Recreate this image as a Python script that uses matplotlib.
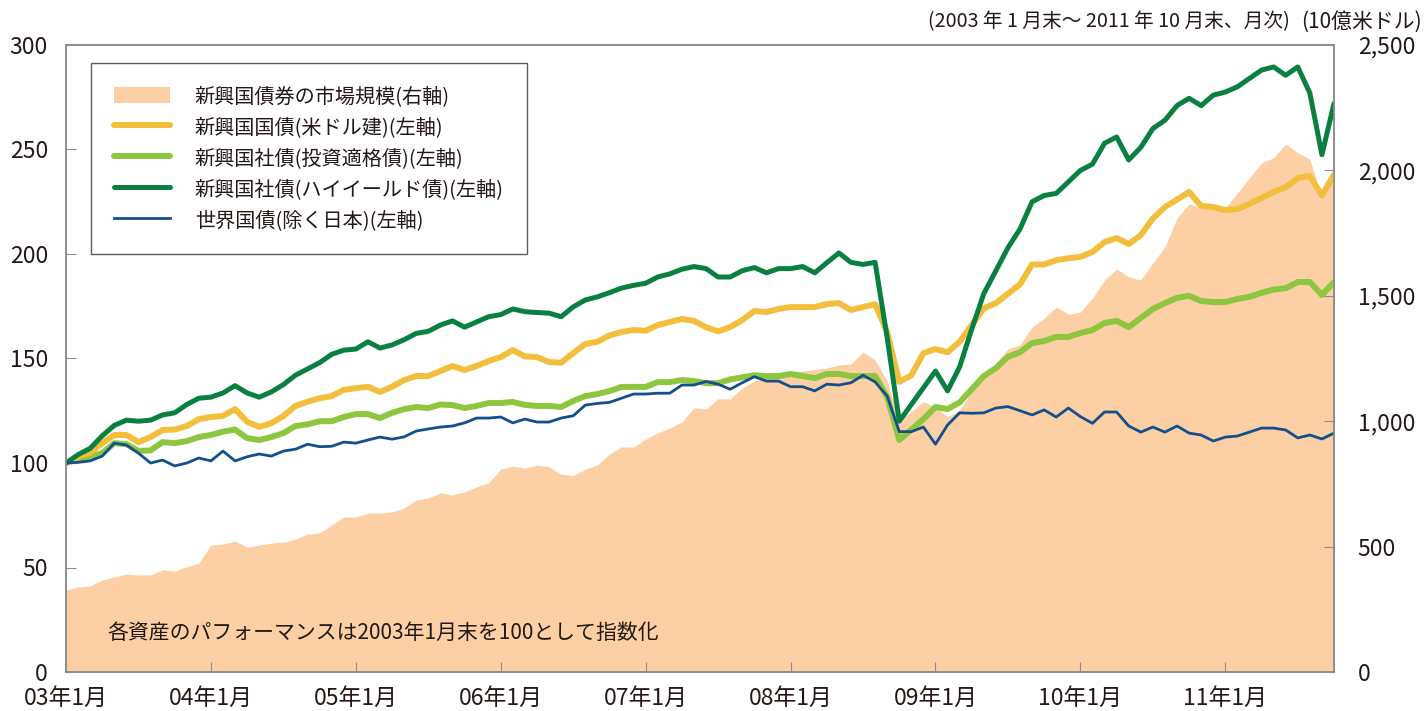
import numpy as np
import matplotlib
matplotlib.use("Agg")
import matplotlib.pyplot as plt
from matplotlib.patches import Patch
from matplotlib.ticker import FuncFormatter

plt.rcParams['font.family'] = ['Noto Sans CJK JP', 'DejaVu Sans']

# monthly, 2003/01 .. 2011/10 (left axis index, right axis 10億米ドル)
sov_usd = [100, 103, 105, 109.5, 113.4, 113.4, 110, 112.4, 115.8, 116, 117.7, 121, 122, 122.5, 125.8, 119.7,
           117.3, 119, 122.5, 127.3, 129.3, 131, 132, 135, 135.8, 136.5, 134, 136.5, 139.7, 141.6, 141.6, 144,
           146.4, 144.5, 146.4, 148.8, 150.7, 154, 151, 150.7, 148.3, 148, 152.6, 156.9, 158, 161, 162.7, 163.6,
           163.3, 166, 167.5, 168.9, 168, 165, 163, 165, 168.4, 172.7, 172.2, 173.7, 174.6, 174.6, 174.6, 176,
           176.5, 173.2, 174.6, 176, 162.7, 138.8, 142, 152.6, 154.5, 153, 158, 166, 174, 176.5, 181, 185.5,
           195, 195, 197, 198, 198.6, 201, 205.7, 207.6, 204.8, 209, 217, 222.5, 226, 229.7, 223, 222.5,
           221, 221.5, 224, 226.8, 229.7, 232, 236.3, 237.3, 228, 238]
corp_ig = [100, 102, 103, 104.7, 109.5, 109, 105.8, 106, 110, 109.5, 110.5, 112.4, 113.4, 115, 116, 111.9,
           111, 112.4, 114.3, 117.7, 118.5, 120, 120, 122, 123.4, 123.4, 121.5, 124, 125.8, 126.8, 126.3, 128,
           127.7, 126.3, 127.3, 128.7, 128.7, 129.2, 127.8, 127.3, 127.3, 126.8, 129.7, 132, 133, 134.4, 136.4, 136.4,
           136.4, 138.7, 138.7, 139.7, 139.2, 138.2, 138.2, 140, 141, 142, 141.6, 141.6, 142.6, 141.6, 140.6, 142.6,
           142.6, 141.6, 141.6, 141.6, 131.6, 111, 116, 121, 126.8, 125.8, 129, 135.3, 141.6, 145.4, 150.8, 153,
           157.4, 158.4, 160.3, 160.3, 162.2, 163.6, 167, 168, 165, 169.4, 173.7, 176.5, 179, 180, 177.5, 177,
           177, 178.5, 179.5, 181.4, 183, 183.6, 186.6, 186.6, 180.4, 186.6]
corp_hy = [100, 104, 107, 113, 118, 120.5, 120, 120.5, 123, 124, 128, 131, 131.5, 133.5, 137, 133.5,
           131.5, 134, 137.5, 142, 145, 148, 152, 154, 154.5, 158, 155, 156.5, 159, 162, 163, 166,
           168, 165, 167.5, 170, 171, 173.7, 172.4, 172, 171.7, 170, 174.7, 178, 179.5, 181.5, 183.7, 185,
           186, 189, 190.5, 192.7, 194, 193, 189, 189, 192, 193.5, 191, 193, 193, 194, 191, 195.8,
           200.5, 196, 195, 196, 160, 120, 128, 136, 144, 134.5, 146, 164, 181, 192, 203, 212,
           225, 228, 229, 234.5, 240, 243, 253, 256, 245, 251, 260, 264, 271, 274.5, 271, 276,
           277.5, 280, 284, 288, 289.5, 285.5, 289.5, 277, 247.5, 272]
world_gov = [100, 100.3, 101, 103.3, 109.5, 108.6, 104.7, 100, 101.4, 98.6, 100, 102.4, 101, 105.7, 101, 103,
             104.3, 103.3, 105.7, 106.6, 109, 107.8, 108, 110, 109.5, 111, 112.4, 111.4, 112.5, 115.3, 116.3, 117.2,
             117.7, 119.2, 121.5, 121.5, 122, 119.2, 121, 119.6, 119.6, 121.5, 122.6, 127.7, 128.5, 129, 131, 133,
             133, 133.4, 133.4, 137.3, 137.3, 139, 137.7, 135.3, 138.4, 141.3, 139.2, 139.2, 136.5, 136.5, 134.5, 137.7,
             137.3, 138.4, 142, 138.8, 132, 115, 115, 117.2, 109, 118.2, 124, 123.8, 124, 126.3, 127, 125,
             123, 125.4, 122, 126.3, 122.2, 119, 124.4, 124.4, 117.7, 114.8, 117.2, 114.8, 117.7, 114.3, 113.4, 110.5,
             112.4, 112.9, 114.8, 116.7, 116.7, 115.8, 112, 113.4, 111.5, 114.3]
market_size = [327, 339, 343, 367, 379, 391, 387, 387, 407, 403, 419, 435, 506, 510, 522, 498,
               506, 514, 518, 530, 550, 554, 586, 618, 618, 634, 634, 638, 654, 686, 694, 714,
               706, 718, 738, 754, 809, 821, 813, 825, 818, 789, 783, 809, 825, 869, 897, 897,
               929, 953, 973, 997, 1053, 1049, 1089, 1089, 1132, 1160, 1172, 1185, 1196, 1200, 1206, 1212,
               1224, 1228, 1276, 1244, 1160, 1000, 1040, 1077, 1057, 1017, 1045, 1117, 1176, 1230, 1288, 1304,
               1376, 1411, 1455, 1427, 1435, 1491, 1563, 1607, 1575, 1563, 1631, 1695, 1810, 1866, 1850, 1850,
               1850, 1910, 1970, 2030, 2050, 2105, 2070, 2045, 1890, 1990]

tick_labels = ["03年1月", "04年1月", "05年1月", "06年1月", "07年1月",
               "08年1月", "09年1月", "10年1月", "11年1月"]
labels = ["新興国債券の市場規模(右軸)", "新興国国債(米ドル建)(左軸)", "新興国社債(投資適格債)(左軸)",
          "新興国社債(ハイイールド債)(左軸)", "世界国債(除く日本)(左軸)"]

months = np.arange(len(sov_usd))
grey = '#8e8e8e'
txt = '#231815'

fig = plt.figure(figsize=(14.25, 7.11), dpi=100)
ax = fig.add_axes([66 / 1425, 39 / 711, 1268 / 1425, 627 / 711])
ax2 = ax.twinx()

# area on the right axis, kept behind the lines
ax2.fill_between(months, market_size, 0, color='#fccfa5', linewidth=0)
ax2.set_ylim(0, 2500)
ax2.set_yticks(np.arange(0, 2501, 500))
ax2.yaxis.set_major_formatter(FuncFormatter(lambda v, p: f"{int(v):,}"))
ax.set_zorder(ax2.get_zorder() + 1)
ax.patch.set_visible(False)

l_ig, = ax.plot(months, corp_ig, color='#8dc63f', lw=4.3, solid_capstyle='round')
l_sov, = ax.plot(months, sov_usd, color='#f2be3c', lw=4.3, solid_capstyle='round')
l_hy, = ax.plot(months, corp_hy, color='#0a8040', lw=3.6, solid_capstyle='round')
l_wg, = ax.plot(months, world_gov, color='#124f8c', lw=2.0)

ax.set_xlim(0, len(months) - 1)
ax.set_ylim(0, 300)
ax.set_yticks(np.arange(0, 301, 50))
ax.set_xticks(np.arange(0, len(months), 12))
ax.set_xticklabels(tick_labels)

for a in (ax, ax2):
    for s in a.spines.values():
        s.set_color(grey)
        s.set_linewidth(1.2)
ax.tick_params(axis='both', direction='in', length=7, color=grey, labelsize=16.5, labelcolor=txt)
ax.tick_params(axis='y', pad=13)
ax.tick_params(axis='x', pad=11)
ax2.tick_params(axis='y', direction='in', length=7, color=grey, labelsize=16.5, labelcolor=txt, pad=17)

handles = [Patch(facecolor='#fccfa5', edgecolor='none'), l_sov, l_ig, l_hy, l_wg]
leg = ax.legend(handles, labels, loc='upper left', bbox_to_anchor=(0.0197, 0.972),
                fontsize=14.5, frameon=True, fancybox=False, handlelength=2.75, handleheight=0.85,
                handletextpad=1.25, labelspacing=0.5, borderpad=1.15, borderaxespad=0)
leg.get_frame().set_edgecolor('#333333')
leg.get_frame().set_linewidth(1.0)
for t in leg.get_texts():
    t.set_color(txt)

ax.text(0.033, 0.062, "各資産のパフォーマンスは2003年1月末を100として指数化",
        transform=ax.transAxes, fontsize=15, color=txt, va='center', ha='left')
fig.text(1290 / 1425, 1 - 22 / 711, "(2003 年 1 月末～ 2011 年 10 月末、月次)",
         fontsize=14.2, color=txt, ha='right', va='center')
fig.text(1422 / 1425, 1 - 22 / 711, "(10億米ドル)", fontsize=15, color=txt, ha='right', va='center')

fig.savefig("out.png", dpi=100)
